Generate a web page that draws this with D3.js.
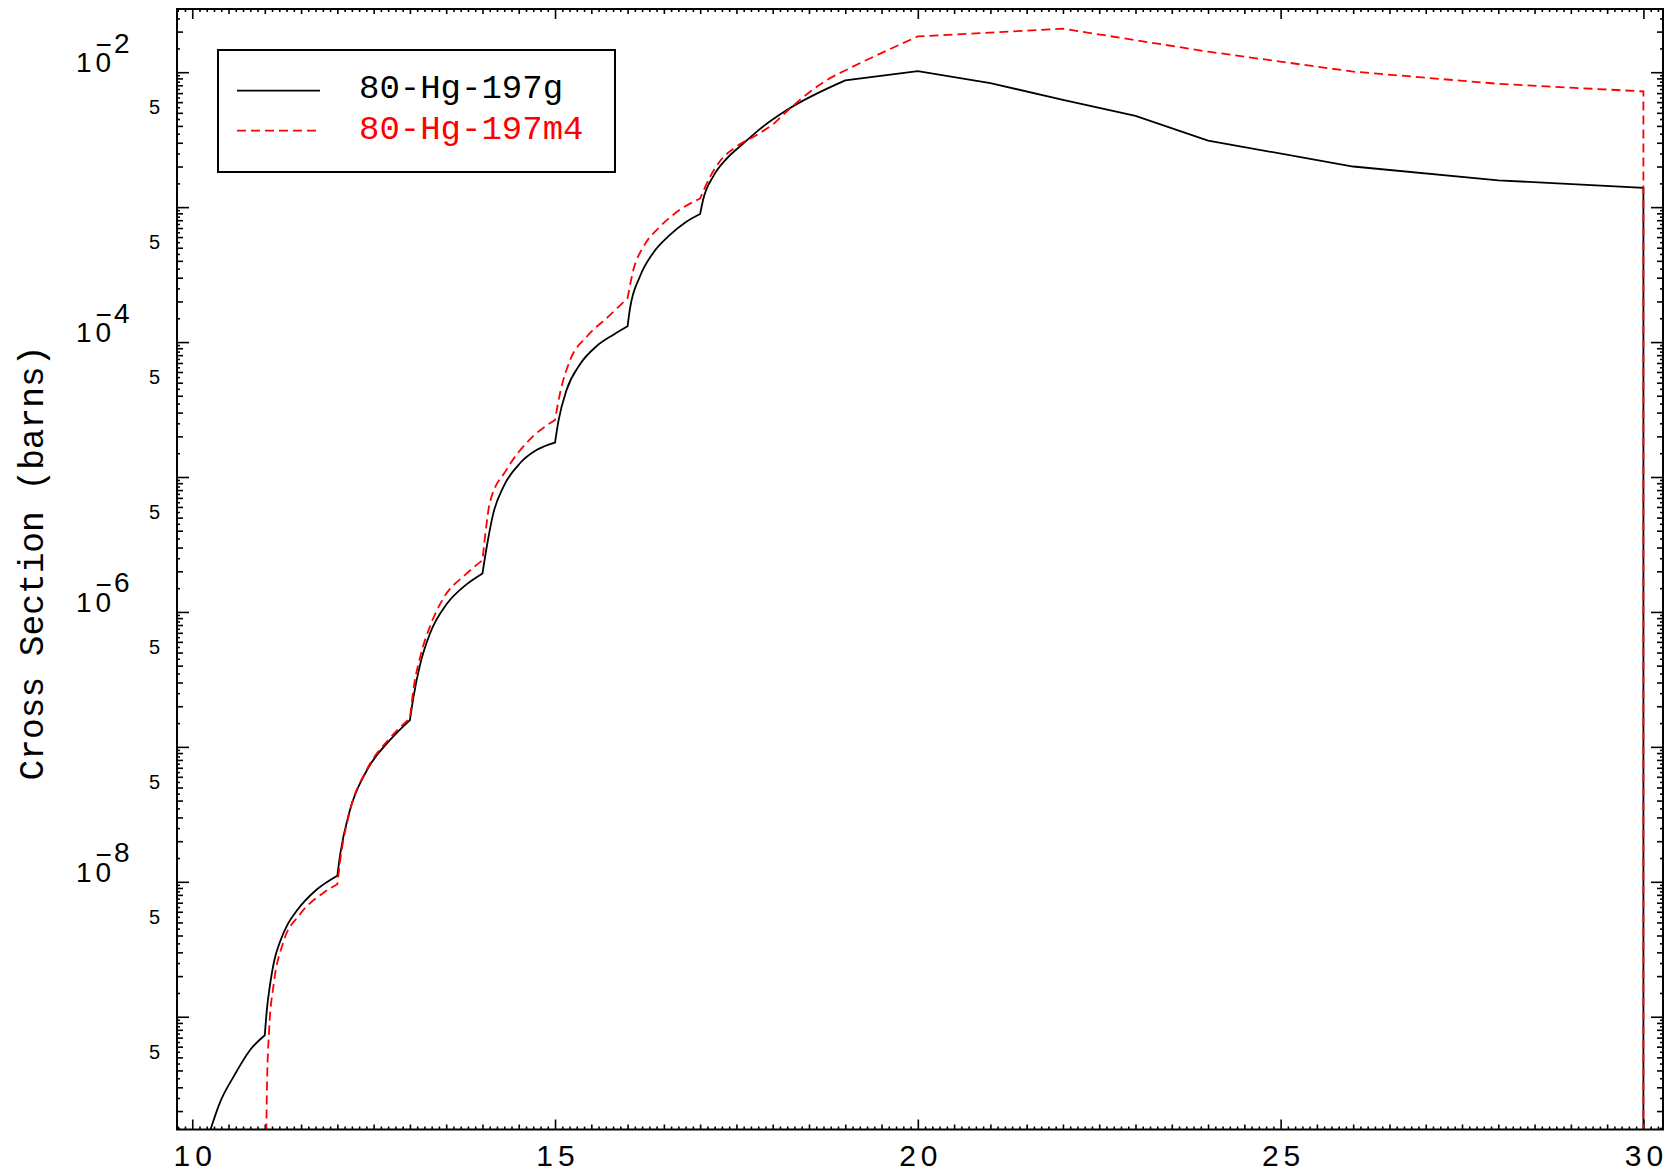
<!DOCTYPE html>
<html lang="en">
<head>
  <style>
    body { margin: 0; background: #fff; }
    .xlab { font: 30px "Liberation Sans", sans-serif; letter-spacing: 5px; }
    .ylab { font: 28px "Liberation Sans", sans-serif; }
    .ylab5 { font: 20px "Liberation Sans", sans-serif; }
    .title { font: 34.5px "Liberation Mono", monospace; }
    .legend { font: 34px "Liberation Mono", monospace; }
    .curve { fill: none; stroke-width: 1.8px; }
  </style>
  <script src="https://d3js.org/d3.v7.min.js"></script>
</head>
<body>
<script>
  // data (energy in MeV, cross section in barns)
  const seriesNames = ["80-Hg-197g", "80-Hg-197m4"];
  const seriesColors = ["#000000", "#ff0000"];

  const energyG = [10.15, 10.25, 10.38, 10.57, 10.8, 11,
    11.03, 11.07, 11.13, 11.21, 11.32, 11.44, 11.72, 12,
    12.04, 12.17, 12.4, 12.73, 13,
    13.05, 13.14, 13.28, 13.51, 13.78, 14,
    14.06, 14.15, 14.29, 14.52, 14.75, 15,
    15.05, 15.16, 15.34, 15.57, 15.8, 16,
    16.03, 16.17, 16.35, 16.58, 16.81, 17,
    17.04, 17.18, 17.35, 17.6, 17.81, 18.2, 19,
    20, 21, 22, 23, 24, 26, 28, 30, 30];
  const sigmaG = [1.0e-10, 1.45e-10, 2.3e-10, 3.6e-10, 5.7e-10, 7.3e-10,
    1.15e-9, 1.69e-9, 2.6e-9, 3.6e-9, 4.9e-9, 6.1e-9, 8.8e-9, 1.11e-8,
    1.61e-8, 3.35e-8, 6.6e-8, 1.13e-7, 1.58e-7,
    2.36e-7, 4.07e-7, 7.0e-7, 1.15e-6, 1.6e-6, 1.93e-6,
    3.06e-6, 5.4e-6, 8.5e-6, 1.27e-5, 1.59e-5, 1.8e-5,
    2.65e-5, 4.43e-5, 6.8e-5, 9.3e-5, 1.13e-4, 1.31e-4,
    1.73e-4, 3.06e-4, 4.56e-4, 6.2e-4, 7.8e-4, 8.9e-4,
    1.13e-3, 1.69e-3, 2.24e-3, 2.98e-3, 3.74e-3, 5.26e-3, 8.7e-3,
    1.02e-2, 8.3e-3, 6.24e-3, 4.74e-3, 3.11e-3, 2.0e-3, 1.58e-3, 1.39e-3, 1e-12];

  const energyM = [11, 11.03, 11.06, 11.12, 11.25, 11.48, 11.81, 12,
    12.04, 12.17, 12.4, 12.73, 13,
    13.05, 13.14, 13.28, 13.46, 13.78, 14,
    14.04, 14.1, 14.33, 14.65, 15,
    15.07, 15.21, 15.44, 15.76, 16,
    16.08, 16.22, 16.45, 16.72, 17,
    17.14, 17.27, 17.5, 17.78, 18,
    18.29, 18.71, 19.06, 19.49, 20,
    22, 24, 26, 28, 30, 30];
  const sigmaM = [1e-11, 3e-10, 8e-10, 1.7e-9, 3.5e-9, 5.7e-9, 8.3e-9, 9.6e-9,
    1.45e-8, 3.3e-8, 6.7e-8, 1.17e-7, 1.63e-7,
    2.7e-7, 4.6e-7, 7.9e-7, 1.26e-6, 1.92e-6, 2.42e-6,
    3.8e-6, 6.4e-6, 1.13e-5, 1.89e-5, 2.65e-5,
    4.19e-5, 7.4e-5, 1.1e-4, 1.59e-4, 2.12e-4,
    3.43e-4, 5.1e-4, 7.2e-4, 9.55e-4, 1.16e-3,
    1.69e-3, 2.18e-3, 2.81e-3, 3.43e-3, 4.07e-3,
    5.7e-3, 8.5e-3, 1.07e-2, 1.38e-2, 1.84e-2,
    2.1e-2, 1.42e-2, 1.01e-2, 8.2e-3, 7.2e-3, 1e-12];

  const xTicks = [10, 15, 20, 25, 30];
  const yLabelExps = [-2, -4, -6, -8];

  const W = 1675, H = 1176;
  const pLeft = 177, pRight = 1663, pTop = 9, pBottom = 1129.5;

  const svg = d3.select("body").append("svg")
    .attr("width", W).attr("height", H);

  const x = d3.scaleLinear().domain([9.79, 30.27]).range([pLeft, pRight]);
  const y = d3.scaleLog().domain([1.46e-10, 2.94e-2]).range([pBottom, pTop]);

  // tick values
  const xMinor = [], xMid = [];
  for (let i = 98; i <= 302; i++) {
    const v = i / 10;
    if (v < x.domain()[0] || v > x.domain()[1]) continue;
    if (i % 50 === 0) continue;
    if (i % 5 === 0) xMid.push(v); else xMinor.push(v);
  }
  const yMajor = [], yMid = [], yMinor = [];
  for (let e = -11; e <= -1; e++) {
    for (let k = 1; k < 10; k += 0.5) {
      const v = k * Math.pow(10, e);
      if (v < y.domain()[0] || v > y.domain()[1]) continue;
      if (k === 1) yMajor.push(v);
      else if (Number.isInteger(k)) yMid.push(v);
      else yMinor.push(v);
    }
  }

  function ticks(axisFn, scale, values, size, transform) {
    svg.append("g").attr("transform", transform)
      .call(axisFn(scale).tickValues(values).tickSize(-size).tickFormat(""))
      .call(g => g.select(".domain").remove())
      .selectAll("line").attr("stroke-width", 1.6);
  }
  [[xTicks, 10], [xMid, 5], [xMinor, 3]].forEach(([vals, s]) => {
    ticks(d3.axisBottom, x, vals, s, `translate(0,${pBottom})`);
    ticks(d3.axisTop, x, vals, s, `translate(0,${pTop})`);
  });
  [[yMajor, 12], [yMid, 6], [yMinor, 3]].forEach(([vals, s]) => {
    ticks(d3.axisLeft, y, vals, s, `translate(${pLeft},0)`);
    ticks(d3.axisRight, y, vals, s, `translate(${pRight},0)`);
  });

  // x labels
  svg.append("g")
    .attr("transform", `translate(0,${pBottom})`)
    .call(d3.axisBottom(x).tickValues(xTicks).tickSize(0).tickPadding(15).tickFormat(d3.format("d")))
    .call(g => g.select(".domain").remove())
    .selectAll("text")
    .attr("class", "xlab")
    .attr("dx", 2.5)
    .attr("fill", "#000");

  // y labels: 10^n on even decades (minus drawn over the 0), 5 on every half decade
  const yl = svg.append("g");
  yLabelExps.forEach(e => {
    const ty = y(Math.pow(10, e));
    const t = yl.append("text").attr("class", "ylab").attr("x", 76).attr("y", ty);
    t.append("tspan").style("letter-spacing", "4px").text("10");
    t.append("tspan").attr("x", 95.5).attr("dy", -18).text("\u2212");
    t.append("tspan").attr("x", 114).attr("dy", -1.5).text(String(-e));
  });
  for (let e = -10; e <= -3; e++) {
    const v = 5 * Math.pow(10, e);
    if (v < y.domain()[0]) continue;
    yl.append("text").attr("class", "ylab5").attr("x", 154.5).attr("y", y(v) + 1.5)
      .attr("text-anchor", "middle").text("5");
  }

  svg.append("text")
    .attr("class", "title")
    .attr("transform", `translate(43,563) rotate(-90)`)
    .attr("text-anchor", "middle")
    .text("Cross Section (barns)");

  // curves
  svg.append("clipPath").attr("id", "plot")
    .append("rect").attr("x", pLeft).attr("y", pTop)
    .attr("width", pRight - pLeft).attr("height", pBottom - pTop);

  const line = d3.line().x(d => x(d[0])).y(d => y(d[1])).curve(d3.curveMonotoneX);

  // thresholds sit on whole MeV values: break the smooth curve there
  function seriesPath(xs, vs) {
    const pts = xs.map((e, i) => [e, vs[i]]);
    const pieces = [];
    let cur = [pts[0]];
    for (let i = 1; i < pts.length; i++) {
      cur.push(pts[i]);
      if (Number.isInteger(pts[i][0]) && i < pts.length - 1) {
        pieces.push(cur);
        cur = [pts[i]];
      }
    }
    pieces.push(cur);
    return pieces.map((p, i) => {
      const s = line(p);
      return i ? s.replace(/^M[^A-Za-z]*/, "") : s;
    }).join("");
  }

  const plot = svg.append("g").attr("clip-path", "url(#plot)");
  plot.append("path").attr("class", "curve")
    .attr("stroke", seriesColors[0])
    .attr("d", seriesPath(energyG, sigmaG));
  plot.append("path").attr("class", "curve")
    .attr("stroke", seriesColors[1])
    .attr("stroke-dasharray", "9,5")
    .attr("d", seriesPath(energyM, sigmaM));

  // frame
  svg.append("rect")
    .attr("x", pLeft).attr("y", pTop)
    .attr("width", pRight - pLeft).attr("height", pBottom - pTop)
    .attr("fill", "none").attr("stroke", "#000").attr("stroke-width", 2);

  // legend
  const lg = svg.append("g");
  lg.append("rect").attr("x", 218).attr("y", 50).attr("width", 397).attr("height", 122)
    .attr("fill", "none").attr("stroke", "#000").attr("stroke-width", 2);
  seriesNames.forEach((name, i) => {
    const ly = 90.7 + i * 40;
    lg.append("line").attr("x1", 237).attr("x2", 320).attr("y1", ly).attr("y2", ly)
      .attr("stroke", seriesColors[i]).attr("stroke-width", 1.8)
      .attr("stroke-dasharray", i ? "9,5" : null);
    lg.append("text").attr("class", "legend").attr("x", 359).attr("y", 97.5 + i * 41)
      .attr("fill", seriesColors[i]).text(name);
  });
</script>
</body>
</html>
